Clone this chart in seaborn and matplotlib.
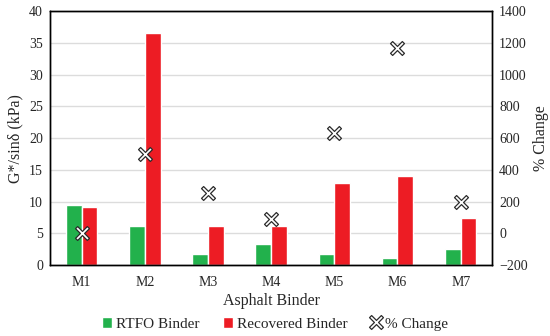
import numpy as np
import pandas as pd
import matplotlib
matplotlib.use("Agg")
import matplotlib.pyplot as plt
import seaborn as sns
from matplotlib.lines import Line2D
from matplotlib.patches import Patch
from matplotlib.path import Path

binders = ["M1", "M2", "M3", "M4", "M5", "M6", "M7"]
rtfo = [9.4, 6.1, 1.8, 3.3, 1.8, 1.1, 2.5]
recovered = [9.2, 36.5, 6.2, 6.2, 13.0, 14.0, 7.4]
pct_change = [0, 500, 252, 90, 635, 1170, 195]

green = "#22B14C"
red = "#ED1C24"

sns.set_style("white")
plt.rcParams["font.family"] = ["Liberation Serif", "DejaVu Serif"]

# thin outlined X marker
a = 0.3
xverts = [(-1, -1 + a), (-1 + a, -1), (0, -a), (1 - a, -1), (1, -1 + a), (a, 0),
          (1, 1 - a), (1 - a, 1), (0, a), (-1 + a, 1), (-1, 1 - a), (-a, 0),
          (-1, -1 + a)]
xmark = Path(xverts, closed=True)

df = pd.DataFrame({
    "Binder": binders * 2,
    "value": rtfo + recovered,
    "type": ["RTFO Binder"] * 7 + ["Recovered Binder"] * 7,
})

fig = plt.figure(figsize=(5.5, 3.36), dpi=100)
ax = fig.add_axes([0.091, 0.211, 0.804, 0.756])

sns.barplot(data=df, x="Binder", y="value", hue="type",
            palette=[green, red], width=0.5, saturation=1,
            legend=False, ax=ax, zorder=2)
ax.set_ylim(0, 40)
ax.set_yticks(range(0, 41, 5))
ax.set_xlim(-0.5, 6.5)
ax.yaxis.grid(True, color="#dcdcdc", linewidth=1, zorder=0)
ax.set_axisbelow(True)
ax.set_xlabel("Asphalt Binder", fontsize=11.5, labelpad=3)
ax.set_ylabel("G*/sinδ (kPa)", fontsize=11.5)
ax.tick_params(axis="x", labelsize=10, length=0, pad=8)
ax.tick_params(axis="y", labelsize=10, length=0, pad=5)
for s in ax.spines.values():
    s.set_color("black")
    s.set_linewidth(1)

ax2 = ax.twinx()
sns.scatterplot(x=np.arange(len(binders)), y=pct_change, ax=ax2,
                marker=xmark, s=100, color="white", edgecolor="#2a2a2a",
                linewidth=0.9, zorder=5)
ax2.set_ylim(-200, 1400)
ax2.set_yticks(range(-200, 1401, 200))
ax2.set_ylabel("% Change", fontsize=11.5)
ax2.tick_params(axis="y", labelsize=10, length=0, pad=5)
for s in ax2.spines.values():
    s.set_color("black")
    s.set_linewidth(1)

handles = [
    Patch(facecolor=green),
    Patch(facecolor=red),
    Line2D([], [], marker=xmark, linestyle="none", markersize=10,
           markerfacecolor="white", markeredgecolor="#2a2a2a",
           markeredgewidth=0.9),
]
labels = ["RTFO Binder", "Recovered Binder", "% Change"]
fig.legend(handles=handles, labels=labels, loc="lower center", ncol=3,
           frameon=False, fontsize=11, bbox_to_anchor=(0.5, -0.025),
           handlelength=0.7, handleheight=0.7, handletextpad=0.25,
           columnspacing=1.5)

fig.savefig("out.png", dpi=100)
